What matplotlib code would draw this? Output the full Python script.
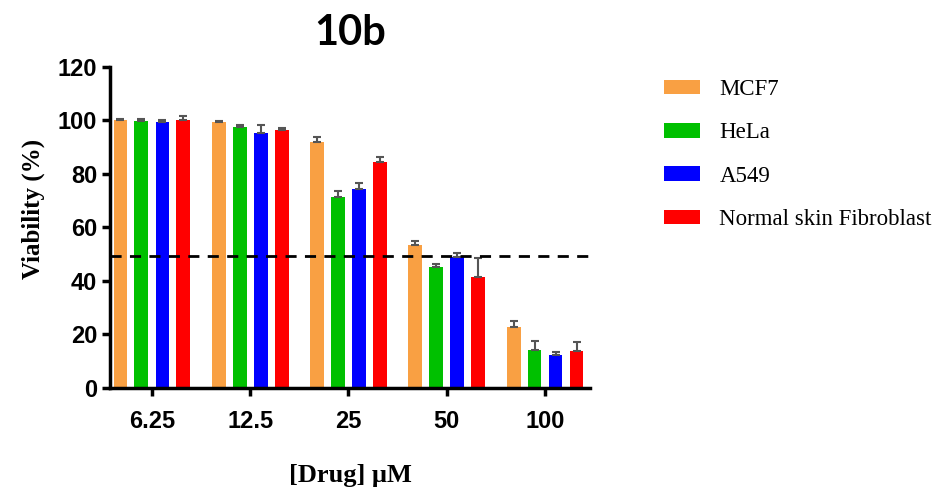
import matplotlib
matplotlib.use("Agg")
import matplotlib.pyplot as plt
from matplotlib.patches import Patch
import numpy as np

# Data
doses = ["6.25", "12.5", "25", "50", "100"]
cell_lines = ["MCF7", "HeLa", "A549", "Normal skin Fibroblast"]
mcf7 = [100.2, 99.4, 91.8, 53.6, 22.7]
hela = [99.8, 97.4, 71.5, 45.1, 14.2]
a549 = [99.3, 95.4, 74.5, 48.8, 12.2]
fibro = [100.3, 96.4, 84.4, 41.6, 13.7]
mcf7_err = [0.3, 0.4, 1.8, 1.3, 2.2]
hela_err = [0.7, 0.8, 2.1, 1.1, 3.5]
a549_err = [0.7, 2.8, 2.2, 1.6, 1.3]
fibro_err = [1.5, 0.8, 2.0, 7.1, 3.6]
colors = ["#f9a043", "#00c000", "#0000ff", "#ff0000"]
threshold = 49.3

values = [mcf7, hela, a549, fibro]
errors = [mcf7_err, hela_err, a549_err, fibro_err]

fig = plt.figure(figsize=(9.37, 4.88), dpi=100)
ax = fig.add_axes([0.117, 0.205, 0.513, 0.658])

x = np.arange(len(doses))
offsets = [-0.32, -0.107, 0.107, 0.32]
width = 0.14
for vals, errs, col, off in zip(values, errors, colors, offsets):
    ax.bar(x + off, vals, width, color=col, zorder=2)
    ax.errorbar(x + off, vals, yerr=[np.zeros(len(errs)), errs], fmt="none",
                ecolor="#555555", elinewidth=1.5, capsize=3, capthick=1.5, zorder=3)

ax.axhline(threshold, color="black", linestyle=(0, (4, 3)), linewidth=2, zorder=4)

ax.set_xlim(-0.43, 4.46)
ax.set_ylim(0, 120)
ax.set_yticks(range(0, 121, 20))
ax.set_xticks(x)
ax.set_xticklabels(doses)
for s in ["top", "right"]:
    ax.spines[s].set_visible(False)
for s in ["left", "bottom"]:
    ax.spines[s].set_linewidth(2.5)
ax.tick_params(width=2.5, length=6, labelsize=17)
for lab in ax.get_xticklabels() + ax.get_yticklabels():
    lab.set_fontweight("bold")
    lab.set_fontfamily("Liberation Sans")
ax.tick_params(axis="x", pad=10)
ax.tick_params(axis="y", pad=3)

ax.set_ylabel("Viability (%)", fontsize=18, fontweight="bold", family="Liberation Serif")
ax.yaxis.set_label_coords(-0.135, 0.558)
ax.set_xlabel("[Drug] \u03bcM", fontsize=19, fontweight="bold", family="Liberation Serif", labelpad=22)
ax.set_title("10b", fontsize=30, fontweight="bold", family="Lato", pad=16)

handles = [Patch(facecolor=c) for c in colors]
fig.legend(handles, cell_lines, loc="upper left", bbox_to_anchor=(0.687, 0.88),
           frameon=False, prop={"family": "Liberation Serif", "size": 16.5},
           handlelength=1.55, handleheight=0.6, labelspacing=0.97, handletextpad=0.85)

fig.savefig("out.png", dpi=100)
